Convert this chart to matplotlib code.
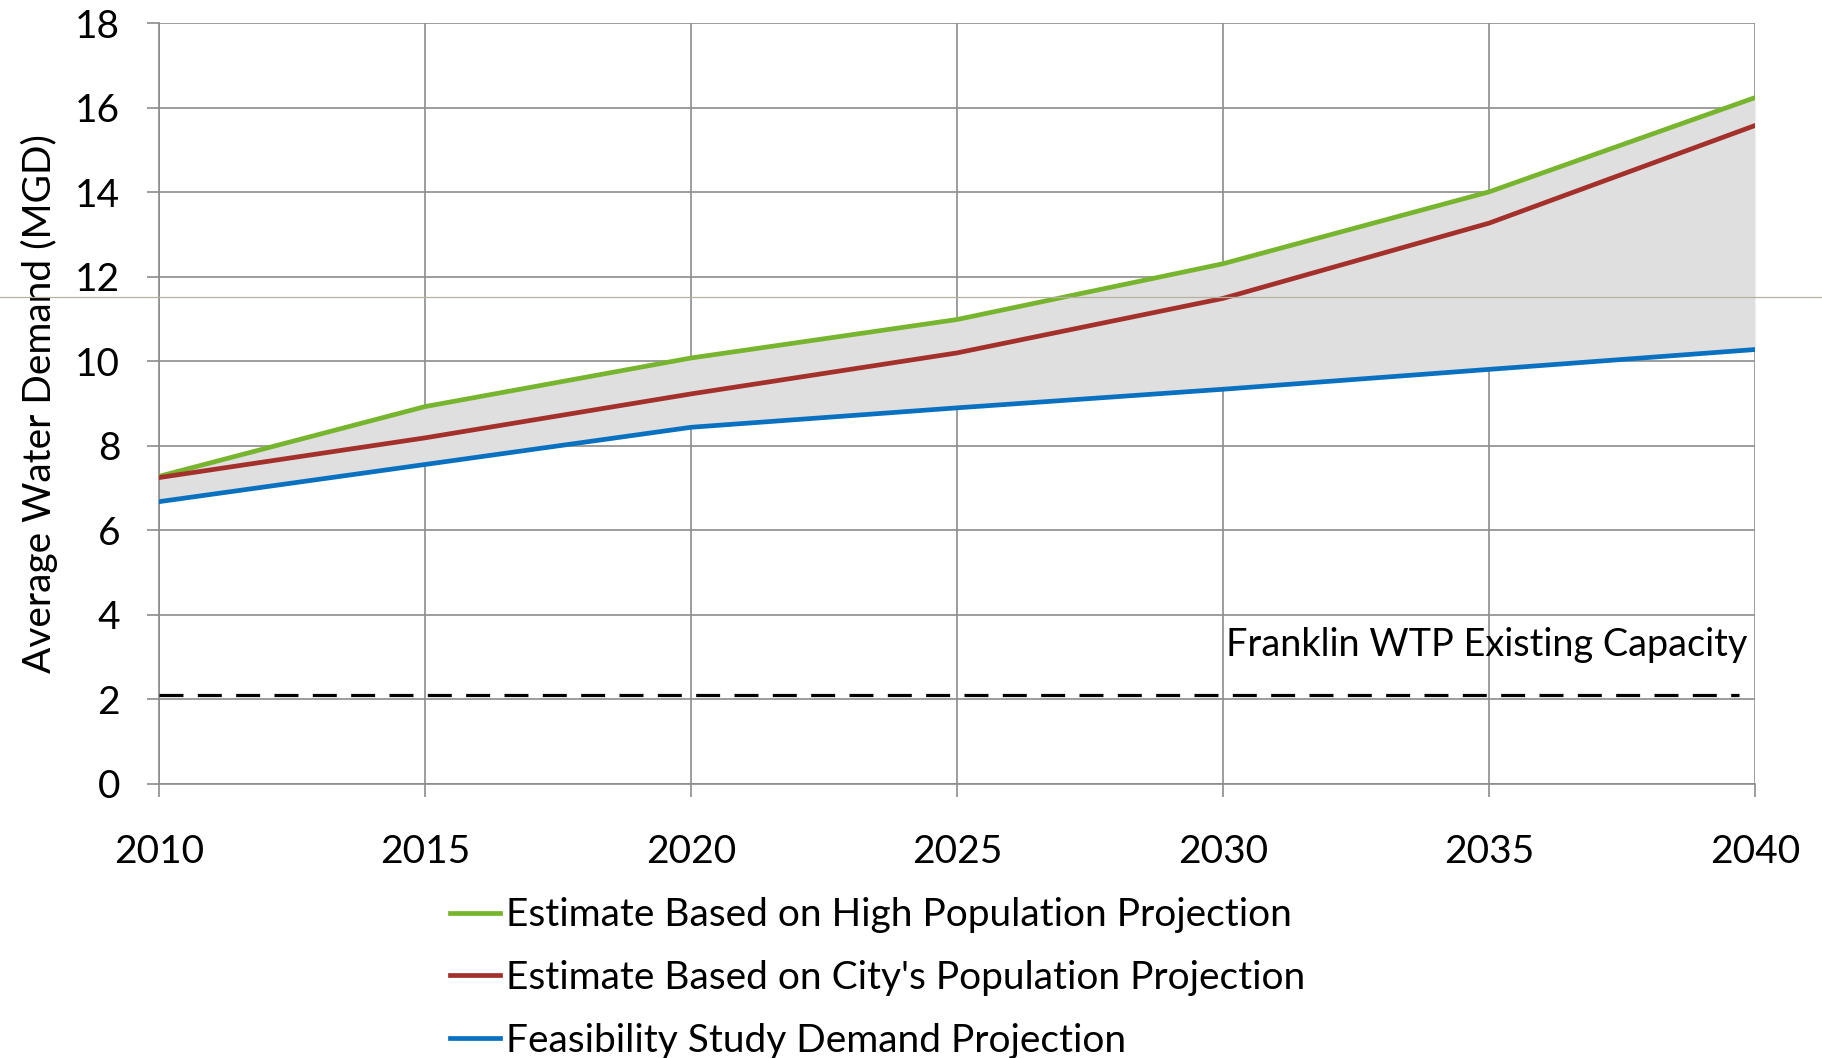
import matplotlib
matplotlib.use("Agg")
import matplotlib.pyplot as plt
from matplotlib.lines import Line2D

plt.rcParams['font.family'] = ['Lato', 'DejaVu Sans']

years = [2010, 2015, 2020, 2025, 2030, 2035, 2040]
high_pop = [7.28, 8.93, 10.08, 10.99, 12.31, 14.01, 16.24]
city_pop = [7.25, 8.19, 9.23, 10.20, 11.49, 13.27, 15.58]
feasibility = [6.68, 7.56, 8.44, 8.90, 9.34, 9.81, 10.28]
capacity = 2.1
capacity_x = [2010, 2039.7]

labels = ['Estimate Based on High Population Projection',
          "Estimate Based on City's Population Projection",
          'Feasibility Study Demand Projection']
colors = ['#78b52e', '#a3302a', '#0a70c0']

fig = plt.figure(figsize=(18.22, 10.58), dpi=100)
ax = fig.add_axes([0.0873, 0.259, 0.8759, 0.719])

ax.fill_between(years, feasibility, high_pop, color='#dfdfdf', lw=0, zorder=1)
ax.plot(years, high_pop, color=colors[0], lw=3.4, zorder=3)
ax.plot(years, city_pop, color=colors[1], lw=3.4, zorder=3)
ax.plot(years, feasibility, color=colors[2], lw=3.4, zorder=3)
ax.plot(capacity_x, [capacity, capacity], color='black', lw=2.3,
        linestyle=(0, (7.5, 4.5)), zorder=3)
ax.text(2039.85, 3.3, 'Franklin WTP Existing Capacity', ha='right', va='center',
        fontsize=27.3, zorder=4)

ax.set_xlim(2010, 2040)
ax.set_ylim(0, 18)
ax.set_xticks(years)
ax.set_yticks(range(0, 19, 2))
ax.grid(True, color='#8c8c8c', lw=1.2, zorder=0)
ax.set_axisbelow(True)
for s in ['top', 'right']:
    ax.spines[s].set_visible(False)
for s in ['left', 'bottom']:
    ax.spines[s].set_color('#8c8c8c')
    ax.spines[s].set_linewidth(1.2)
ax.tick_params(axis='both', direction='out', length=9, width=1.2,
               color='#8c8c8c', labelsize=28)
ax.tick_params(axis='x', pad=27)
ax.tick_params(axis='y', pad=19)
ax.set_ylabel('Average Water Demand (MGD)', fontsize=28, labelpad=12)

handles = [Line2D([], [], color=c, lw=3.4) for c in colors]
fig.legend(handles, labels, loc='upper left', bbox_to_anchor=(0.247, 0.152),
           frameon=False, fontsize=28, handlelength=1.29, handletextpad=0.15,
           labelspacing=0.69, borderpad=0, borderaxespad=0)

# thin stray line across the figure
fig.add_artist(Line2D([0, 1], [1 - 297 / 1058, 1 - 297 / 1058],
                      transform=fig.transFigure, color='#b5b09f', lw=0.9))

fig.savefig('out.png', dpi=100)
